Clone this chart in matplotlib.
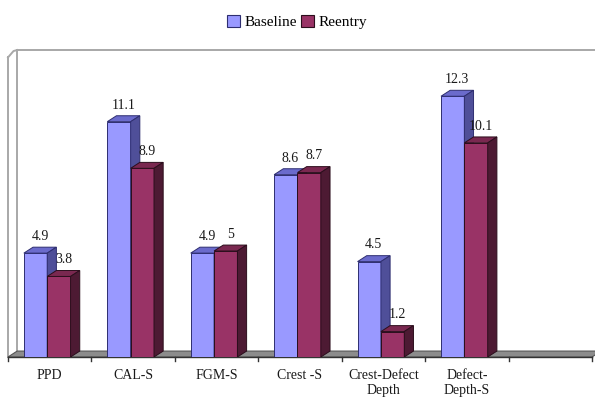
import matplotlib.pyplot as plt
from matplotlib.patches import Polygon, Patch

categories = ["PPD", "CAL-S", "FGM-S", "Crest -S", "Crest-Defect\nDepth", "Defect-\nDepth-S"]
baseline = [4.9, 11.1, 4.9, 8.6, 4.5, 12.3]
reentry = [3.8, 8.9, 5, 8.7, 1.2, 10.1]
n_slots = 7

W, H = 595, 403
px_unit = 21.2          # pixels per data unit (y)
y_top = (357 - 50) / px_unit
dx, dy = 0.11, 0.28     # 3D depth offset in data units
bw = 0.28

colors = {
    "Baseline": ("#9999FF", "#6B6BCC", "#4F4F99", "#2E2E70"),
    "Reentry": ("#993366", "#7A2850", "#4D1A33", "#2B0E1C"),
}


def bar3d(ax, x0, h, front, top, side, edge):
    ax.add_patch(Polygon([(x0, 0), (x0 + bw, 0), (x0 + bw, h), (x0, h)],
                         closed=True, fc=front, ec=edge, lw=0.7, zorder=3))
    ax.add_patch(Polygon([(x0, h), (x0 + bw, h), (x0 + bw + dx, h + dy), (x0 + dx, h + dy)],
                         closed=True, fc=top, ec=edge, lw=0.7, zorder=3))
    ax.add_patch(Polygon([(x0 + bw, 0), (x0 + bw + dx, dy), (x0 + bw + dx, h + dy), (x0 + bw, h)],
                         closed=True, fc=side, ec=edge, lw=0.7, zorder=3))


def main():
    fig = plt.figure(figsize=(W / 100, H / 100), dpi=100)
    plt.rcParams['font.family'] = ['Liberation Serif', 'DejaVu Serif']
    ax = fig.add_axes([8 / W, (H - 357) / H, (592 - 8) / W, (357 - 50) / H])
    ax.set_xlim(0, n_slots)
    ax.set_ylim(0, y_top)
    ax.axis('off')

    # walls and floor
    wall = "#A8A8A8"
    ax.plot([dx, dx], [dy, y_top], color=wall, lw=1.4, clip_on=False, zorder=1)
    ax.plot([0, 0], [0, y_top - 0.35], color=wall, lw=1.4, clip_on=False, zorder=1)
    ax.plot([0, dx * 0.6, dx], [y_top - 0.35, y_top - 0.05, y_top], color=wall, lw=1.4,
            clip_on=False, zorder=1)
    ax.plot([dx, n_slots + 0.1], [y_top, y_top], color=wall, lw=1.4, clip_on=False, zorder=1)
    ax.add_patch(Polygon([(0, 0), (n_slots, 0), (n_slots + dx, dy), (dx, dy)], closed=True,
                         fc="#8C8C8C", ec="#555555", lw=0.8, clip_on=False, zorder=2))
    ax.plot([0, n_slots], [0, 0], color="#333333", lw=1.0, clip_on=False, zorder=2)
    for k in range(n_slots + 1):
        ax.plot([k, k], [0, -0.2], color="#333333", lw=1.0, clip_on=False, zorder=2)

    for i, (b, r) in enumerate(zip(baseline, reentry)):
        c = i + 0.5
        xb = c - 0.31
        xr = xb + bw
        bar3d(ax, xb, b, *colors["Baseline"])
        bar3d(ax, xr, r, *colors["Reentry"])
        for x0, v in ((xb, b), (xr, r)):
            ax.text(x0 + bw / 2 + dx / 2, v + dy + 0.2, f"{v:g}", ha='center', va='bottom',
                    fontsize=10, color="#1a1a1a", zorder=4)
        ax.text(c, -0.55, categories[i], ha='center', va='top', fontsize=10,
                color="#1a1a1a", linespacing=1.25)

    handles = [Patch(fc=colors[k][0], ec=colors[k][3], lw=0.8) for k in ("Baseline", "Reentry")]
    fig.legend(handles, ["Baseline", "Reentry"], loc='center', bbox_to_anchor=(297 / W, 1 - 22 / H),
               ncol=2, frameon=False, fontsize=11, handlelength=0.8, handleheight=0.8,
               handletextpad=0.3, columnspacing=0.3)

    fig.savefig("out.png", dpi=100)


if __name__ == "__main__":
    main()
